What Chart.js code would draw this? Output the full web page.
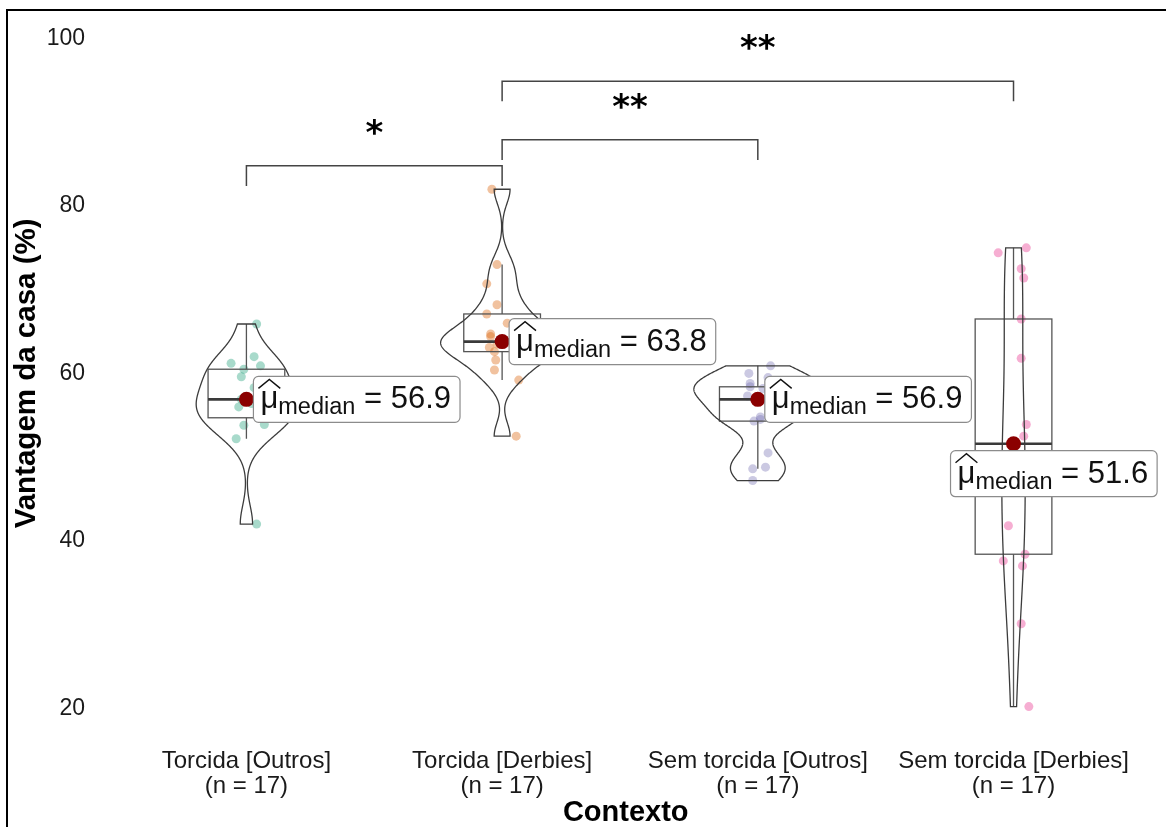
<!DOCTYPE html>
<html><head><meta charset="utf-8">
<script src="https://cdn.jsdelivr.net/npm/chart.js@4.4.1/dist/chart.umd.min.js"></script>
<style>
html,body{margin:0;padding:0;background:#fff;overflow:hidden;width:1166px;height:827px;}
canvas{position:absolute;left:0;top:0;}
#frame{position:absolute;left:6px;top:9px;width:1300px;height:1000px;border-left:2px solid #000;border-top:2px solid #000;pointer-events:none;}
</style></head><body>
<canvas id="c" width="1166" height="827"></canvas>
<div id="frame"></div>
<script>
// ---------------- data ----------------
const categories = ['Torcida [Outros]', 'Torcida [Derbies]', 'Sem torcida [Outros]', 'Sem torcida [Derbies]'];
const torcidaOutros  = [42.0, 52.2, 53.8, 53.9, 54.7, 55.3, 56.0, 56.4, 56.9, 57.4, 58.3, 59.6, 60.5, 60.9, 61.2, 62.0, 65.9];
const torcidaDerbies = [52.5, 59.2, 60.4, 61.6, 62.6, 63.1, 63.5, 63.7, 63.8, 64.4, 64.7, 66.0, 67.1, 68.2, 70.7, 73.0, 82.0];
const semOutros      = [47.2, 48.6, 48.8, 50.5, 54.3, 54.5, 54.8, 55.6, 56.9, 57.3, 57.8, 58.2, 58.4, 58.8, 59.5, 60.0, 60.9];
const semDerbies     = [20.2, 30.1, 37.0, 37.6, 38.4, 41.8, 46.5, 50.0, 51.6, 52.5, 53.9, 61.8, 66.5, 71.4, 72.5, 74.4, 75.0];
// horizontal jitter of each point (category units)
const jitterTorcidaOutros  = [0.04, -0.04, -0.01, 0.07, 0.05, 0.06, -0.03, 0.02, -0.02, 0.05, 0.03, -0.02, -0.01, 0.055, -0.06, 0.03, 0.04];
const jitterTorcidaDerbies = [0.055, 0.065, -0.03, -0.025, -0.03, -0.05, -0.02, 0.03, 0.04, -0.045, -0.045, 0.02, -0.06, -0.02, -0.06, -0.02, -0.04];
const jitterSemOutros      = [-0.02, -0.02, 0.03, 0.04, -0.015, 0.01, 0.01, 0.05, 0.03, -0.04, 0.06, 0.02, -0.03, -0.03, 0.04, -0.035, 0.05];
const jitterSemDerbies     = [0.06, 0.03, 0.035, -0.04, 0.045, -0.02, -0.03, 0.02, 0.0, 0.04, 0.05, 0.03, 0.03, 0.04, 0.03, -0.06, 0.05];
const yTicks = [20, 40, 60, 80, 100];
const comparisons = [[1, 2], [2, 3], [2, 4]];
const signifLabels = ['*', '**', '**'];
const bracketLevels = [84.8, 87.9, 94.9];

// ---------------- styling ----------------
const groups = [torcidaOutros, torcidaDerbies, semOutros, semDerbies];
const jitters = [jitterTorcidaOutros, jitterTorcidaDerbies, jitterSemOutros, jitterSemDerbies];
const pointColors = ['rgba(27,158,119,0.38)', 'rgba(217,95,2,0.38)', 'rgba(117,112,179,0.38)', 'rgba(231,41,138,0.38)'];
const labelOffsets = [[7, 0], [7, 0], [7, 0], [-63, 30]];
const FAM = '"Liberation Sans", Arial, Helvetica, sans-serif';

// ---------------- statistics helpers ----------------
function q7(s, p) { const h = (s.length - 1) * p, lo = Math.floor(h), hi = Math.min(lo + 1, s.length - 1); return s[lo] + (h - lo) * (s[hi] - s[lo]); }
function boxStats(v) {
  const s = [...v].sort((a, b) => a - b);
  const q1 = q7(s, 0.25), med = q7(s, 0.5), q3 = q7(s, 0.75), iqr = q3 - q1;
  const lo = Math.min(...s.filter(x => x >= q1 - 1.5 * iqr));
  const hi = Math.max(...s.filter(x => x <= q3 + 1.5 * iqr));
  return { s, q1, med, q3, lo, hi, iqr };
}
function bwNrd0(st) {
  const n = st.s.length, m = st.s.reduce((a, b) => a + b, 0) / n;
  const sd = Math.sqrt(st.s.reduce((a, b) => a + (b - m) * (b - m), 0) / (n - 1));
  const lo = Math.min(sd, st.iqr / 1.34) || sd || 1;
  return 0.9 * lo * Math.pow(n, -0.2);
}
const stats = groups.map(boxStats);
const dens = stats.map(st => {
  const bw = bwNrd0(st), n = st.s.length, a = st.s[0], b = st.s[n - 1], pts = [];
  for (let i = 0; i < 512; i++) {
    const y = a + (b - a) * i / 511; let d = 0;
    for (const x of st.s) { const z = (y - x) / bw; d += Math.exp(-0.5 * z * z); }
    pts.push([y, d / (n * bw * Math.sqrt(2 * Math.PI))]);
  }
  return pts;
});
const maxDens = Math.max(...dens.map(p => Math.max(...p.map(q => q[1]))));

// ---------------- plugin: violins, boxes, labels, brackets ----------------
const decor = {
  id: 'decor',
  beforeDatasetDraw(chart, args) {
    if (args.index !== 4) return;
    const { ctx, scales: { x, y } } = chart;
    ctx.save();
    stats.forEach((st, i) => {
      const c = i + 1;
      const bl = x.getPixelForValue(c - 0.15), br = x.getPixelForValue(c + 0.15), cx = x.getPixelForValue(c);
      ctx.strokeStyle = '#555'; ctx.lineWidth = 1.3;
      ctx.strokeRect(bl, y.getPixelForValue(st.q3), br - bl, y.getPixelForValue(st.q1) - y.getPixelForValue(st.q3));
      ctx.beginPath();
      ctx.moveTo(cx, y.getPixelForValue(st.q3)); ctx.lineTo(cx, y.getPixelForValue(st.hi));
      ctx.moveTo(cx, y.getPixelForValue(st.q1)); ctx.lineTo(cx, y.getPixelForValue(st.lo));
      ctx.stroke();
      ctx.strokeStyle = '#3a3a3a'; ctx.lineWidth = 2.6;
      ctx.beginPath(); ctx.moveTo(bl, y.getPixelForValue(st.med)); ctx.lineTo(br, y.getPixelForValue(st.med)); ctx.stroke();
      const d = dens[i];
      ctx.strokeStyle = '#3c3c3c'; ctx.lineWidth = 1.3;
      ctx.beginPath();
      d.forEach(([yv, dv], k) => { const px = x.getPixelForValue(c - 0.25 * dv / maxDens), py = y.getPixelForValue(yv); k ? ctx.lineTo(px, py) : ctx.moveTo(px, py); });
      for (let k = d.length - 1; k >= 0; k--) ctx.lineTo(x.getPixelForValue(c + 0.25 * d[k][1] / maxDens), y.getPixelForValue(d[k][0]));
      ctx.closePath(); ctx.stroke();
    });
    ctx.restore();
  },
  afterDatasetsDraw(chart) {
    const { ctx, scales: { x, y } } = chart;
    ctx.save();
    stats.forEach((st, i) => {
      const left = x.getPixelForValue(i + 1) + labelOffsets[i][0];
      const cy = y.getPixelForValue(st.med) + labelOffsets[i][1];
      const txt = st.med.toFixed(1);
      const big = `31px ${FAM}`, sub = `23.5px ${FAM}`;
      ctx.font = big; const wMu = ctx.measureText('μ').width;
      ctx.font = sub; const wSub = ctx.measureText('median').width;
      ctx.font = big; const wRest = ctx.measureText(' = ' + txt).width;
      const pad = 7, w = pad * 2 + wMu + wSub + wRest + 2, h = 46;
      ctx.beginPath(); ctx.roundRect(left, cy - h / 2, w, h, 5);
      ctx.fillStyle = '#fff'; ctx.fill(); ctx.strokeStyle = '#8c8c8c'; ctx.lineWidth = 1.2; ctx.stroke();
      ctx.fillStyle = '#111'; ctx.textAlign = 'left'; ctx.textBaseline = 'alphabetic';
      let tx = left + pad;
      ctx.font = big; ctx.fillText('μ', tx, cy + 9);
      ctx.strokeStyle = '#111'; ctx.lineWidth = 1.4;
      ctx.beginPath(); ctx.moveTo(tx - 2, cy - 11); ctx.lineTo(tx + wMu / 2, cy - 20); ctx.lineTo(tx + wMu + 2, cy - 11); ctx.stroke();
      tx += wMu;
      ctx.font = sub; ctx.fillText('median', tx, cy + 15);
      tx += wSub;
      ctx.font = big; ctx.fillText(' = ' + txt, tx, cy + 9);
    });
    comparisons.forEach(([a, b], i) => {
      const xa = x.getPixelForValue(a), xb = x.getPixelForValue(b);
      const yt = y.getPixelForValue(bracketLevels[i]), ye = y.getPixelForValue(bracketLevels[i] - 2.4);
      ctx.strokeStyle = '#444'; ctx.lineWidth = 1.5;
      ctx.beginPath(); ctx.moveTo(xa, ye); ctx.lineTo(xa, yt); ctx.lineTo(xb, yt); ctx.lineTo(xb, ye); ctx.stroke();
      ctx.font = `bold 34px "DejaVu Sans", sans-serif`; ctx.fillStyle = '#000'; ctx.textAlign = 'center'; ctx.textBaseline = 'alphabetic';
      const m = ctx.measureText(signifLabels[i]);
      const center = yt - 39;
      ctx.fillText(signifLabels[i], (xa + xb) / 2, center + (m.actualBoundingBoxAscent - m.actualBoundingBoxDescent) / 2);
    });
    ctx.restore();
  }
};

// ---------------- chart ----------------
const datasets = groups.map((g, i) => ({
  label: categories[i],
  data: g.map((v, k) => ({ x: i + 1 + jitters[i][k], y: v })),
  pointRadius: 4.5, pointBackgroundColor: pointColors[i], pointBorderWidth: 0, order: i + 1
}));
datasets.push({
  label: 'median',
  data: stats.map((st, i) => ({ x: i + 1, y: st.med })),
  pointRadius: 7.5, pointBackgroundColor: '#8B0000', pointBorderWidth: 0, order: 0
});

new Chart(document.getElementById('c'), {
  type: 'scatter',
  data: { datasets },
  plugins: [decor],
  options: {
    responsive: false, animation: false, devicePixelRatio: 1,
    layout: { padding: { top: 18, left: 0, right: 0, bottom: 0 } },
    plugins: { legend: { display: false }, tooltip: { enabled: false } },
    scales: {
      x: {
        type: 'linear', min: 0.4, max: 4.567,
        grid: { display: false, drawTicks: false }, border: { display: false },
        afterBuildTicks: s => { s.ticks = categories.map((c, i) => ({ value: i + 1 })); },
        afterFit: s => { s.height = 102; },
        ticks: {
          autoSkip: false, maxRotation: 0, padding: 24, color: '#1a1a1a',
          font: { family: FAM, size: 24, lineHeight: 1.05 },
          callback: v => { const i = Math.round(v) - 1; return [categories[i], `(n = ${groups[i].length})`]; }
        },
        title: { display: true, text: 'Contexto', color: '#000', font: { family: FAM, size: 29, weight: 'bold', lineHeight: 1 }, padding: { top: 0, bottom: 0 } }
      },
      y: {
        min: 18, max: 102,
        grid: { display: false, drawTicks: false }, border: { display: false },
        afterBuildTicks: s => { s.ticks = yTicks.map(v => ({ value: v })); },
        afterFit: s => { s.width = 93; },
        ticks: { padding: 8, color: '#1a1a1a', font: { family: FAM, size: 23 } },
        title: { display: true, text: 'Vantagem da casa (%)', color: '#000', font: { family: FAM, size: 29.5, weight: 'bold', lineHeight: 1 }, padding: { top: 12, bottom: 0 } }
      }
    }
  }
});
</script>
</body></html>
